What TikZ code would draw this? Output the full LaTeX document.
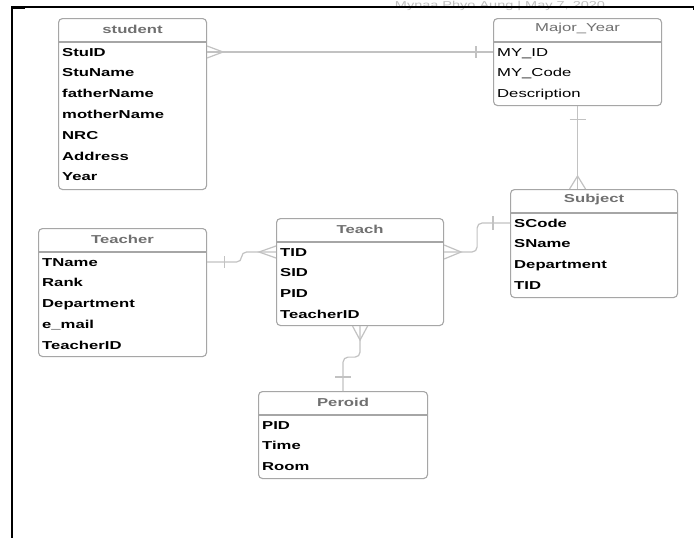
\documentclass[tikz,border=0pt]{standalone}
\usepackage{fontspec}
\usetikzlibrary{calc}
\newfontfamily\erfont[FakeStretch=1.45]{Liberation Sans}
\definecolor{boxgray}{HTML}{A6A6A6}
\definecolor{linegray}{HTML}{C2C2C2}
\definecolor{titlegray}{HTML}{707070}
\tikzset{
  ebox/.style={draw=boxgray, line width=1.1pt, rounded corners=4pt, fill=white, inner sep=0pt},
  sepl/.style={draw=boxgray, line width=1.1pt},
  ttl/.style={font=\erfont\fontsize{11.5}{13}\selectfont\bfseries, text=titlegray, inner sep=0pt},
  ttlr/.style={font=\erfont\fontsize{11.5}{13}\selectfont, text=titlegray, inner sep=0pt},
  fld/.style={font=\erfont\fontsize{11.5}{13}\selectfont\bfseries, text=black, anchor=west, inner sep=0pt, text height=8.2pt, text depth=0pt},
  fldr/.style={font=\erfont\fontsize{11.5}{13}\selectfont, text=black, anchor=west, inner sep=0pt, text height=8.2pt, text depth=0pt},
  conn/.style={draw=linegray, line width=1.2pt},
  frameline/.style={draw=black}
}
\newcommand\erent[6]{%
  \node[ebox, minimum width=#4pt, minimum height=#5pt, anchor=north west] (#1) at (#2,#3) {};
  \draw[sepl] ($(#1.north west)+(0,24)$) -- ($(#1.north east)+(0,24)$);
}
\begin{document}
\begin{tikzpicture}[x=1pt,y=-1pt]
\useasboundingbox (0,0) rectangle (696,538);
\fill[white] (0,0) rectangle (696,538);
% watermark (partially hidden)
\begin{scope}
\clip (0,0) rectangle (696,538);
\node[font=\erfont\fontsize{10}{12}\selectfont, text=black!25, anchor=base, inner sep=0pt] (wm) at (500,9) {Mynaa Phyo Aung \textbar{} May 7, 2020};
\end{scope}
% frame
\draw[frameline, line width=1.5pt] (12,7) -- (694,7);
\draw[frameline, line width=3pt] (12,7.5) -- (25,7.5);
\draw[frameline, line width=1.5pt] (693.5,7) -- (693.5,9.5);
\draw[frameline, line width=2.5pt] (12,6) -- (12,538);

% entities
\erent{student}{58}{18}{148}{171}{student}
\node[ttl] (student-t) at ($(student.north)+(0,11)$) {student};
\foreach \f [count=\i] in {StuID,StuName,fatherName,motherName,NRC,Address,Year}
  \node[fld] (student-\i) at ($(student.north west)+(4,{34+20.8*(\i-1)})$) {\f};

\erent{myear}{493}{18}{168}{87}{Major\_Year}
\node[ttlr] (myear-t) at ($(myear.north)+(0,11)$) {Major\_Year};
\foreach \f [count=\i] in {MY\_ID,MY\_Code,Description}
  \node[fldr] (myear-\i) at ($(myear.north west)+(4,{34+20.8*(\i-1)})$) {\f};

\erent{subject}{510}{189}{167}{108}{Subject}
\node[ttl] (subject-t) at ($(subject.north)+(0,11)$) {Subject};
\foreach \f [count=\i] in {SCode,SName,Department,TID}
  \node[fld] (subject-\i) at ($(subject.north west)+(4,{34+20.8*(\i-1)})$) {\f};

\erent{teach}{276}{218}{167}{107}{Teach}
\node[ttl] (teach-t) at ($(teach.north)+(0,11)$) {Teach};
\foreach \f [count=\i] in {TID,SID,PID,TeacherID}
  \node[fld] (teach-\i) at ($(teach.north west)+(4,{34+20.8*(\i-1)})$) {\f};

\erent{teacher}{38}{228}{168}{128}{Teacher}
\node[ttl] (teacher-t) at ($(teacher.north)+(0,11)$) {Teacher};
\foreach \f [count=\i] in {TName,Rank,Department,e\_mail,TeacherID}
  \node[fld] (teacher-\i) at ($(teacher.north west)+(4,{34+20.8*(\i-1)})$) {\f};

\erent{peroid}{258}{391}{169}{87}{Peroid}
\node[ttl] (peroid-t) at ($(peroid.north)+(0,11)$) {Peroid};
\foreach \f [count=\i] in {PID,Time,Room}
  \node[fld] (peroid-\i) at ($(peroid.north west)+(4,{34+20.8*(\i-1)})$) {\f};

% connectors
% student -- Major_Year
\coordinate (c1a) at (student.east |- student-1.west);
\coordinate (c1b) at (myear.west |- myear-1.west);
\draw[conn] (c1a) -- (c1b);
\draw[conn] ($(c1a)+(0,-6)$) -- ($(c1a)+(16,0)$) -- ($(c1a)+(0,6)$);
\draw[conn] ($(c1b)+(-17,-6)$) -- ($(c1b)+(-17,6)$);

% Major_Year -- Subject
\coordinate (c2b) at (myear.south |- subject.north);
\draw[conn] (myear.south) -- (c2b);
\draw[conn] ($(myear.south)+(-8,13)$) -- ($(myear.south)+(8,13)$);
\draw[conn] ($(c2b)+(-8,0)$) -- ($(c2b)+(0,-13)$) -- ($(c2b)+(8,0)$);

% Teacher -- Teach
\coordinate (c3a) at (teacher.east |- teacher-1.west);
\coordinate (c3b) at (teach.west |- teach-1.west);
\draw[conn, rounded corners=5pt] (c3a) -- ($(c3a)!0.5!(c3b |- c3a)$) |- (c3b);
\draw[conn] ($(c3a)+(17,-6)$) -- ($(c3a)+(17,6)$);
\draw[conn] ($(c3b)+(0,-6)$) -- ($(c3b)+(-17,0)$) -- ($(c3b)+(0,6)$);

% Teach -- Subject
\coordinate (c4a) at (teach.east |- teach-1.west);
\coordinate (c4b) at (subject.west |- subject-1.west);
\draw[conn, rounded corners=5pt] (c4a) -- ($(c4a)+(33,0)$) |- (c4b);
\draw[conn] ($(c4a)+(0,-7)$) -- ($(c4a)+(17,0)$) -- ($(c4a)+(0,7)$);
\draw[conn] ($(c4b)+(-17,-7)$) -- ($(c4b)+(-17,7)$);

% Teach -- Peroid
\coordinate (c5m) at ($(teach.south)+(0,31)$);
\draw[conn, rounded corners=5pt] (teach.south) -- (c5m) -- (c5m -| peroid.north) -- (peroid.north);
\draw[conn] ($(teach.south)+(-7.5,0)$) -- ($(teach.south)+(0,14)$) -- ($(teach.south)+(7.5,0)$);
\draw[conn] ($(peroid.north)+(-8,-14)$) -- ($(peroid.north)+(8,-14)$);
\end{tikzpicture}
\end{document}
